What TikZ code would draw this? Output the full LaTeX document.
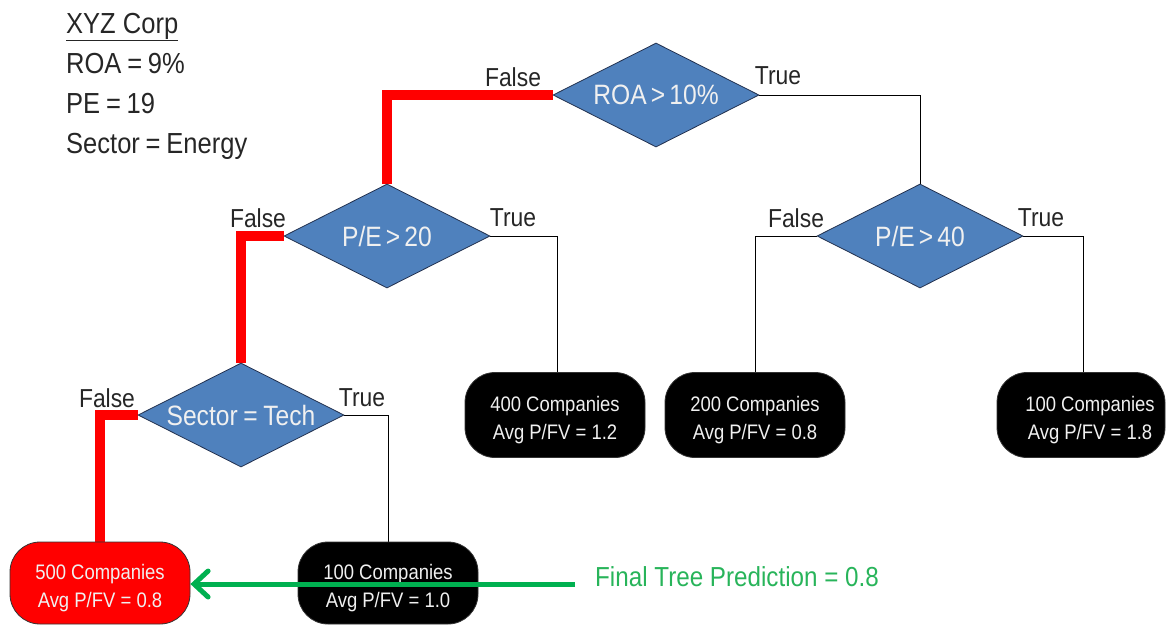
\documentclass[tikz,border=0pt]{standalone}
\usepackage{fontspec}
\setmainfont{Liberation Sans}[FakeStretch=0.88]
\usetikzlibrary{shapes.geometric,arrows.meta,backgrounds}
\definecolor{decblue}{RGB}{79,129,189}
\definecolor{decedge}{RGB}{35,50,80}
\definecolor{pathred}{RGB}{255,0,0}
\definecolor{predgreen}{RGB}{0,176,80}
\definecolor{predtext}{RGB}{40,180,90}
\definecolor{paletext}{RGB}{240,240,240}
\newcommand{\eqsign}{\hspace{0.2em}=\hspace{0.2em}}
\tikzset{
  decision/.style={diamond, aspect=2, draw=decedge, line width=0.8pt, fill=decblue,
    minimum width=206pt, minimum height=104pt, inner sep=0pt,
    text=paletext, font=\fontsize{28}{30}\selectfont},
  leaftext/.style={text=paletext, align=center, yshift=-5pt,
    font=\fontsize{21}{28}\selectfont},
  leaf/.style={rectangle, rounded corners=30pt, draw=black!80, line width=0.8pt,
    fill=black, minimum width=180pt},
  upperleaf/.style={leaf, minimum height=85pt},
  lowerleaf/.style={leaf, minimum height=82pt},
  branch/.style={font=\fontsize{26}{28}\selectfont, text=black!85},
  thinlink/.style={draw=black, line width=0.8pt},
  redlink/.style={draw=pathred, line width=10pt},
  info/.style={anchor=base west, font=\fontsize{29}{32}\selectfont, text=black!85, inner sep=0pt}
}
\begin{document}
\begin{tikzpicture}[x=1pt,y=-1pt]
\useasboundingbox (0,0) rectangle (1166,627);

% company being scored
\node[info] (hdr) at (66,33) {\underline{XYZ Corp}};
\node[info] (roa) at (66,73) {ROA\eqsign 9\%};
\node[info] (pe)  at (66,113) {PE\eqsign 19};
\node[info] (sec) at (66,153) {Sector\eqsign Energy};

% split nodes
\node[decision] (d1) at (656,95) {ROA$\,$>$\,$10\%};
\node[decision] (d2) at (387,236) {P/E$\,$>$\,$20};
\node[decision] (d3) at (920,236) {P/E$\,$>$\,$40};
\node[decision] (d4) at (241,415) {Sector\eqsign Tech};

% leaves
\node[upperleaf, label={[leaftext]center:400 Companies\\Avg P/FV = 1.2}] (l2) at (555,415) {};
\node[upperleaf, label={[leaftext]center:200 Companies\\Avg P/FV = 0.8}] (l3) at (755,415) {};
\node[upperleaf, minimum width=168pt,
      label={[leaftext, xshift=9pt]center:100 Companies\\Avg P/FV = 1.8}] (l4) at (1081,415) {};
\node[lowerleaf, fill=pathred,
      label={[leaftext]center:500 Companies\\Avg P/FV = 0.8}] (l1) at (100,583) {};
\node[lowerleaf, label={[leaftext]center:100 Companies\\Avg P/FV = 1.0}] (l5) at (388,583) {};

% branch labels
\node[branch] (f1) at (513,77) {False};
\node[branch] (t1) at (778,76) {True};
\node[branch] (f2) at (258,218) {False};
\node[branch] (t2) at (513,218) {True};
\node[branch] (f3) at (796,218) {False};
\node[branch] (t3) at (1041,218) {True};
\node[branch] (f4) at (107,398) {False};
\node[branch] (t4) at (362,398) {True};

% connectors behind the shapes
\begin{pgfonlayer}{background}
  \draw[thinlink] (d1.east) -| (d3.north);
  \draw[thinlink] (d2.east) -| ([xshift=2pt]l2.north);
  \draw[thinlink] (d3.west) -| (l3.north);
  \draw[thinlink] (d3.east) -| ([xshift=2pt]l4.north);
  \draw[thinlink] (d4.east) -| (l5.north);
  \draw[redlink] (d1.west) -| (d2.north);
  \draw[redlink] (d2.west) -| (d4.north);
  \draw[redlink] (d4.west) -| (l1.north);
\end{pgfonlayer}

% prediction arrow
\coordinate (gstart) at (575,584);
\draw[draw=predgreen, line width=5pt,
  -{Straight Barb[length=14pt, width=26pt, line width=5pt, line cap=round]}]
  (gstart) -- (l1.east |- gstart);
\node[anchor=base west, inner sep=0pt, text=predtext,
  font=\fontsize{27.5}{30}\selectfont] (pred) at (595,586) {Final Tree Prediction = 0.8};
\end{tikzpicture}
\end{document}
